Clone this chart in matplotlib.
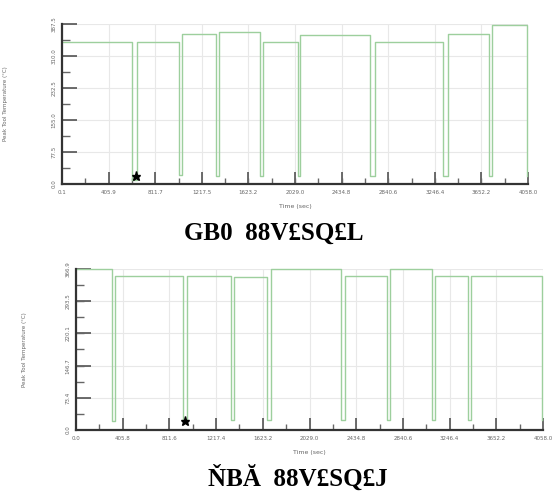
import matplotlib
matplotlib.use("Agg")
import matplotlib.pyplot as plt
from matplotlib.ticker import FixedLocator, AutoMinorLocator

# top chart: peak tool temperature, steps
t_top = [0, 610, 653, 1019, 1045, 1341, 1367, 1725, 1751, 2056, 2073, 2683, 2727, 3319, 3362, 3720, 3746, 4050]
v_top = [344, 10, 344, 22, 363, 19, 368, 19, 344, 19, 361, 19, 344, 19, 363, 19, 386, 19]
star_top = (645, 20)
xt_top = [0.1, 405.9, 811.7, 1217.5, 1623.2, 2029.0, 2434.8, 2840.6, 3246.4, 3652.2, 4058.0]
yt_top = [0.0, 77.5, 155.0, 232.5, 310.0, 387.5]

# bottom chart
t_bot = [0, 313, 339, 930, 965, 1347, 1373, 1660, 1694, 2302, 2337, 2702, 2728, 3093, 3119, 3406, 3432, 4049]
v_bot = [367, 20, 351, 20, 351, 23, 349, 23, 367, 23, 351, 23, 368, 23, 351, 23, 351, 23]
star_bot = (947, 20)
xt_bot = [0.0, 405.8, 811.6, 1217.4, 1623.2, 2029.0, 2434.8, 2840.6, 3246.4, 3652.2, 4058.0]
yt_bot = [0.0, 73.4, 146.7, 220.1, 293.5, 366.9]

captions = ["GB0  88V£SQ£L", "ŇBĂ  88V£SQ£J"]

green = "#9dcf9d"

fig = plt.figure(figsize=(5.54, 4.93), dpi=100)
ax1 = fig.add_axes([62/554, 1-184/493, 466/554, 160/493])
ax2 = fig.add_axes([76/554, 1-430/493, 467/554, 161/493])


def style(ax, t, v, star, xt, yt):
    ax.step(t, v, where="post", color=green, lw=1.0, clip_on=False)
    ax.plot(*star, marker="*", color="black", ms=6.5, clip_on=False)
    ax.set_xlim(xt[0], xt[-1])
    ax.set_ylim(yt[0], yt[-1])
    ax.xaxis.set_major_locator(FixedLocator(xt))
    ax.yaxis.set_major_locator(FixedLocator(yt))
    ax.set_xticklabels([f"{x:.1f}" for x in xt])
    ax.set_yticklabels([f"{y:.1f}" for y in yt])
    ax.xaxis.set_minor_locator(AutoMinorLocator(2))
    ax.yaxis.set_minor_locator(AutoMinorLocator(2))
    ax.tick_params(which="major", axis="x", direction="in", length=9, width=1.1,
                   color="#444444", labelsize=4, labelcolor="#666666", pad=4)
    ax.tick_params(which="major", axis="y", direction="in", length=11, width=1.1,
                   color="#444444", labelsize=4, labelcolor="#666666", pad=4,
                   labelrotation=90)
    ax.tick_params(which="minor", axis="x", direction="in", length=4, width=1.0, color="#666666")
    ax.tick_params(which="minor", axis="y", direction="in", length=6, width=1.0, color="#666666")
    for lab in ax.get_yticklabels():
        lab.set_va("center")
    ax.grid(True, which="major", color="#e8e8e8", lw=0.8)
    ax.set_axisbelow(True)
    for s in ["top", "right"]:
        ax.spines[s].set_visible(False)
    for s in ["left", "bottom"]:
        ax.spines[s].set_color("#333333")
        ax.spines[s].set_linewidth(1.6)
    ax.set_xlabel("Time (sec)", fontsize=4.5, color="#666666", labelpad=7)
    ax.set_ylabel("Peak Tool Temperature (°C)", fontsize=4, color="#666666")


style(ax1, t_top, v_top, star_top, xt_top, yt_top)
style(ax2, t_bot, v_bot, star_bot, xt_bot, yt_bot)
ax1.yaxis.set_label_coords(-0.115, 0.5)
ax2.yaxis.set_label_coords(-0.105, 0.5)

fig.text(274/554, 1-233/493, captions[0], fontsize=18, family="Liberation Serif",
         weight="bold", ha="center", va="center")
fig.text(298/554, 1-478/493, captions[1], fontsize=18, family="Liberation Serif",
         weight="bold", ha="center", va="center")

fig.savefig("out.png", dpi=100)
